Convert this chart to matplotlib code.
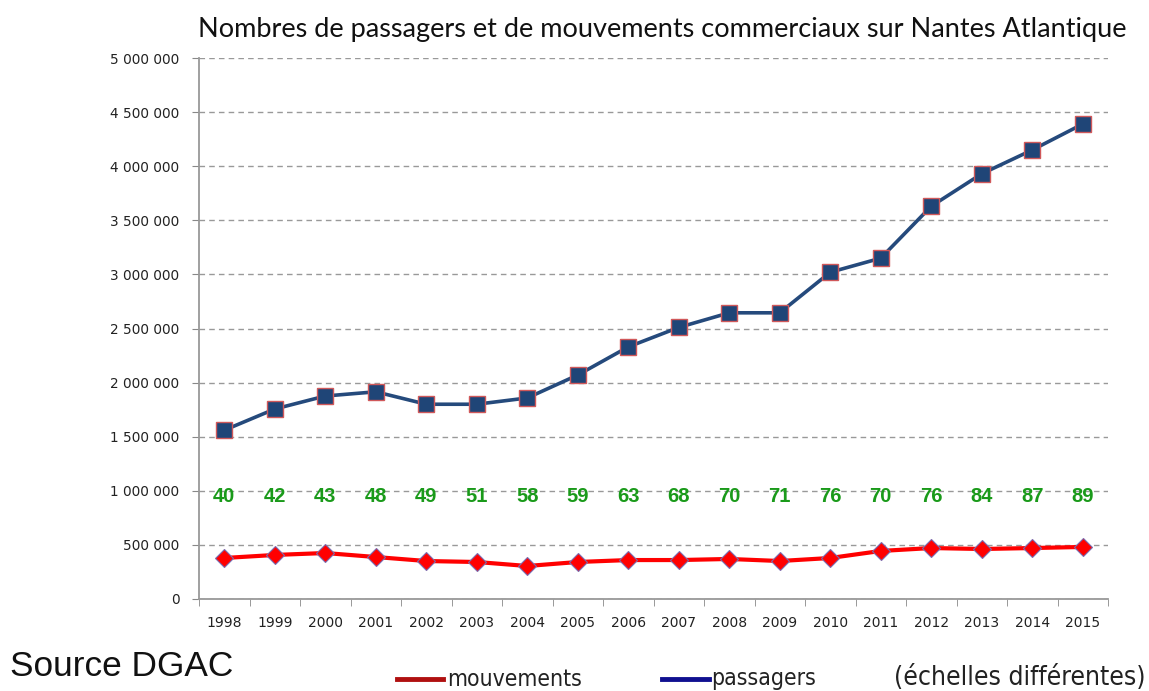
import numpy as np
import matplotlib.pyplot as plt
from matplotlib.lines import Line2D

years = [str(y) for y in range(1998, 2016)]
passagers = [1560000, 1756000, 1876000, 1915000, 1800000, 1800000, 1858000, 2070000,
             2330000, 2510000, 2645000, 2645000, 3020000, 3150000, 3630000, 3930000,
             4150000, 4390000]
mouvements = [379000, 407000, 425000, 388000, 351000, 342000, 305000, 342000,
              360000, 360000, 370000, 351000, 379000, 444000, 471000, 462000,
              471000, 481000]
green_labels = [40, 42, 43, 48, 49, 51, 58, 59, 63, 68, 70, 71, 76, 70, 76, 84, 87, 89]
y_ticks = list(range(0, 5000001, 500000))

fig = plt.figure(figsize=(11.49, 6.91), dpi=100)
ax = fig.add_axes([199/1149, 1 - 599/691, (1108-199)/1149, (599-58)/691])

x = np.arange(len(years))
ax.plot(x, passagers, color='#254a7c', lw=2.6, marker='s', markersize=11,
        markerfacecolor='#1f4577', markeredgecolor='#d0585a', markeredgewidth=1.0, zorder=4)
ax.plot(x, mouvements, color='#ff0000', lw=3.0, marker='D', markersize=9,
        markerfacecolor='#ff0000', markeredgecolor='#7a6cb0', markeredgewidth=0.8, zorder=4)

for xi, v in zip(x, green_labels):
    ax.text(xi, 945000, str(v), color='#1a9a1a', fontsize=14.5, fontweight='bold',
            ha='center', va='center', family='Liberation Sans')

ax.set_xlim(-0.5, len(years) - 0.5)
ax.set_ylim(0, 5000000)
ax.set_yticks(y_ticks)
ax.set_yticklabels([f"{v:,}".replace(',', ' ') for v in y_ticks], fontsize=9.8,
                   family='DejaVu Sans', color='#222222')
ax.yaxis.grid(True, linestyle=(0, (4, 3)), color='#999999', lw=1.0)
ax.set_axisbelow(True)

ax.set_xticks(x)
ax.set_xticklabels(years, fontsize=10, color='#222222')
ax.set_xticks(np.arange(-0.5, len(years), 1), minor=True)
ax.tick_params(axis='x', which='major', length=0, pad=12)
ax.tick_params(axis='x', which='minor', length=5, color='#888888')
ax.tick_params(axis='y', length=5, color='#888888', pad=9)

for s in ['top', 'right']:
    ax.spines[s].set_visible(False)
ax.spines['left'].set_color('#999999')
ax.spines['bottom'].set_color('#999999')
ax.spines['left'].set_linewidth(1.3)
ax.spines['bottom'].set_linewidth(1.3)

fig.text(662/1149, 1 - 29/691, "Nombres de passagers et de mouvements commerciaux sur Nantes Atlantique",
         ha='center', va='center', fontsize=19.5, family='Lato', color='#111111')

fig.text(10/1149, 1 - 667/691, "Source DGAC", ha='left', va='center', fontsize=25.4,
         family='Liberation Sans', color='#111111')

narrow = dict(family='DejaVu Sans', fontstretch='condensed', color='#222222')
fig.add_artist(Line2D([397/1149, 443/1149], [1 - 679/691, 1 - 679/691], color='#b01010', lw=3.5))
fig.text(447/1149, 1 - 679/691, "mouvements", ha='left', va='center', fontsize=16.5, **narrow)
fig.add_artist(Line2D([662/1149, 709/1149], [1 - 679/691, 1 - 679/691], color='#101090', lw=3.5))
fig.text(711/1149, 1 - 679/691, "passagers", ha='left', va='center', fontsize=16.5, **narrow)
fig.text(1145/1149, 1 - 678/691, "(échelles différentes)", ha='right', va='center', fontsize=19,
         **narrow)

plt.savefig('out.png', dpi=100)
